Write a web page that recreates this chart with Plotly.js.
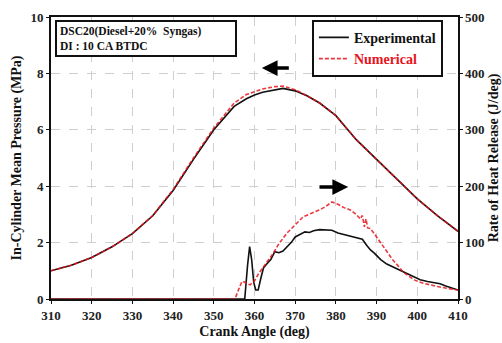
<!DOCTYPE html>
<html>
<head>
<meta charset="utf-8">
<script src="https://cdn.plot.ly/plotly-3.0.1.min.js"></script>
<style>html,body{margin:0;padding:0;background:#fff;}#chart{width:502px;height:343px;}</style>
</head>
<body>
<div id="chart"></div>
<script>
// Cylinder pressure (MPa)
const crankP = [310,315,320,325,330,335,340,345,350,355,358,360,362,365,367,370,373,376,380,385,390,395,400,405,410];
const pressureExp = [1.00,1.20,1.47,1.85,2.32,2.95,3.85,4.95,6.00,6.83,7.10,7.23,7.33,7.43,7.47,7.38,7.20,6.95,6.50,5.65,4.95,4.25,3.55,2.95,2.40];
const pressureNum = [1.00,1.20,1.47,1.85,2.32,2.96,3.88,5.00,6.06,6.95,7.25,7.36,7.45,7.53,7.55,7.42,7.20,6.95,6.50,5.65,4.95,4.25,3.55,2.95,2.40];

// Rate of heat release (J/deg)
const crankHexp = [310,357.6,358.3,358.8,359.3,359.8,360.3,360.9,361.5,362.2,363.0,364.0,365,366,367,368.2,369,370,371,372.4,373.5,374.5,376,377.5,379,380.5,382,383.5,385,386.5,387.6,388.5,389.5,391,392.5,394,395.5,397.4,399,400.7,402.5,404,405.6,407,408.5,410];
const hrrExp = [0,0,60,93,70,30,16,16,35,55,62,70,84,82,85,93,100,110,114,119,118,121,123,123,122,117,114,112,109,106,95,87,81,70,62,57,51,46,40,34,31,29,27,23,19,16];
const crankHnum = [310,355.2,356,356.9,357.5,358.1,358.9,360,361,362.1,363.5,364.6,366,368,370,372,374,376,377.5,379,380.5,382,383.5,385,386,386.5,387,387.4,387.8,388.5,390,391.7,393,394,395.5,396.5,398,399.5,401.4,403,405,407.2,410];
const hrrNum = [0,0,15,31,30,27,25,32,45,57,70,81,98,117,132,146,152,158,164,172,168,162,158,150,142,148,128,142,126,125,110,93,80,69,57,48,40,33,28,25,22,19,16];

const xTicks = [310,320,330,340,350,360,370,380,390,400,410];
const seriesNames = ['Experimental','Numerical'];
const boxText = ['DSC20(Diesel+20%  Syngas)','DI : 10 CA BTDC'];

const RED = '#e8141c';
const serif = 'Liberation Serif';

const traces = [
  {x: crankP, y: pressureExp, type:'scatter', mode:'lines', name: '<b>'+seriesNames[0]+'</b>',
   line:{color:'#111', width:1.6}, yaxis:'y'},
  {x: crankP, y: pressureNum, type:'scatter', mode:'lines', name: '<b><span style="color:'+RED+'">'+seriesNames[1]+'</span></b>',
   line:{color:RED, width:1.6, dash:'4px,2px'}, yaxis:'y', opacity:0.85},
  {x: crankHexp, y: hrrExp, type:'scatter', mode:'lines', name: seriesNames[0], showlegend:false,
   line:{color:'#111', width:1.6}, yaxis:'y2'},
  {x: crankHnum, y: hrrNum, type:'scatter', mode:'lines', name: seriesNames[1], showlegend:false,
   line:{color:RED, width:1.6, dash:'4px,2px'}, yaxis:'y2', opacity:0.85}
];

const tickFont = {family: serif, size: 13, color:'#222', weight:700};
const titleFont = {family: serif, size: 14, color:'#111', weight:700};

const layout = {
  width: 502, height: 343,
  margin: {l:51, r:44, t:17, b:44},
  paper_bgcolor:'#fff', plot_bgcolor:'#fff',
  showlegend: true,
  legend: {x:0.641, y:0.99, xanchor:'left', yanchor:'top', bordercolor:'#111', borderwidth:2,
    bgcolor:'#fff', font:{family: serif, size:14, color:'#111', weight:700},
    itemwidth:30, tracegroupgap:0},
  xaxis: {range:[310,410], tickvals:xTicks, ticktext:xTicks.map(v=>'<b>'+v+'</b>'), showgrid:true,
    gridcolor:'#cfcfcf', griddash:'dash', gridwidth:1, zeroline:false,
    showline:true, linecolor:'#111', linewidth:2, mirror:true,
    ticks:'outside', ticklen:3, tickcolor:'#111', tickfont: tickFont,
    title:{text:'<b>Crank Angle (deg)</b>', font:titleFont, standoff:5}},
  yaxis: {range:[0,10], tickvals:[0,2,4,6,8,10], ticktext:[0,2,4,6,8,10].map(v=>'<b>'+v+'</b>'),
    showgrid:true, gridcolor:'#cfcfcf', griddash:'dash', gridwidth:1,
    zeroline:false, showline:true, linecolor:'#111', linewidth:2,
    ticks:'outside', ticklen:3, tickcolor:'#111', tickfont: tickFont,
    title:{text:'<b>In-Cylinder Mean Pressure (MPa)</b>', font:titleFont, standoff:6}},
  yaxis2: {range:[0,500], tickvals:[0,100,200,300,400,500], ticktext:[0,100,200,300,400,500].map(v=>'<b>'+v+'</b>'),
    overlaying:'y', side:'right', showgrid:false, zeroline:false,
    showline:true, linecolor:'#111', linewidth:1.5,
    ticks:'outside', ticklen:3, tickcolor:'#111', tickfont: tickFont,
    title:{text:'<b>Rate of Heat Release (J/deg)</b>', font:titleFont, standoff:14}},
  annotations: [
    {xref:'paper', yref:'paper', x:0.01, y:0.99, xanchor:'left', yanchor:'top',
     text: boxText.map(t=>'<b>'+t+'</b>').join('<br>'), showarrow:false, align:'left',
     font:{family: serif, size:11.5, color:'#111', weight:700},
     bordercolor:'#111', borderwidth:2, borderpad:3, bgcolor:'#fff', width:172},
    {x:361.8, y:8.19, xref:'x', yref:'y', ax:368.8, ay:8.19, axref:'x', ayref:'y',
     showarrow:true, arrowhead:2, arrowsize:0.9, arrowwidth:3.5, arrowcolor:'#000', text:''},
    {x:383.0, y:3.97, xref:'x', yref:'y', ax:375.6, ay:3.97, axref:'x', ayref:'y',
     showarrow:true, arrowhead:2, arrowsize:0.9, arrowwidth:3.5, arrowcolor:'#000', text:''}
  ]
};

Plotly.newPlot('chart', traces, layout, {displayModeBar:false, staticPlot:true});
</script>
</body>
</html>
